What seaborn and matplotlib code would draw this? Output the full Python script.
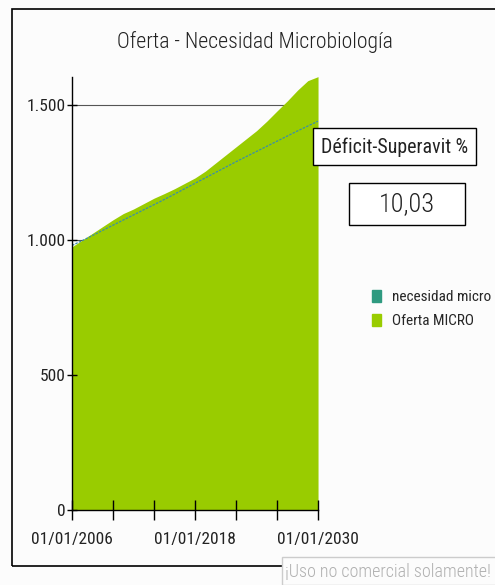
import numpy as np
import pandas as pd
import matplotlib.pyplot as plt
import seaborn as sns
from matplotlib.patches import Patch, Rectangle

years = list(range(2006, 2031))
oferta = [975, 1000, 1025, 1050, 1075, 1098, 1115, 1135, 1155, 1172, 1190, 1210, 1230,
          1255, 1285, 1315, 1345, 1375, 1405, 1440, 1478, 1515, 1555, 1590, 1605]
necesidad = [980, 998, 1017, 1036, 1055, 1074, 1093, 1112, 1131, 1150, 1170, 1190, 1210,
             1230, 1250, 1270, 1290, 1309, 1328, 1347, 1366, 1385, 1404, 1422, 1440]
tick_years = [2006, 2010, 2014, 2018, 2022, 2026, 2030]
tick_labels = ["01/01/2006", "", "", "01/01/2018", "", "", "01/01/2030"]
yticks = [0, 500, 1000, 1500]
ytick_labels = ["0", "500", "1.000", "1.500"]
deficit = "10,03"

df = pd.DataFrame({"year": years, "oferta": oferta, "necesidad": necesidad})

sns.set_style("white")
plt.rcParams["font.family"] = ["Roboto Condensed", "Liberation Sans Narrow", "DejaVu Sans"]
plt.rcParams["font.stretch"] = "condensed"

green = "#99cc00"
teal = "#2f9a80"
txt = "#222222"

fig = plt.figure(figsize=(4.95, 5.85), dpi=100, facecolor="#fcfcfc")
ax = fig.add_axes([0.1455, 0.128, 0.497, 0.741])
ax.set_facecolor("#fcfcfc")

# horizontal grid lines sit behind the area
for v in yticks[1:]:
    ax.axhline(v, color="#555555", lw=0.8, zorder=0.5)

ax.fill_between(df["year"], 0, df["oferta"], color=green, lw=0, zorder=1)
sns.lineplot(data=df, x="year", y="necesidad", ax=ax, color="#3a8fa8", lw=0.9,
             linestyle=(0, (2, 1)), zorder=2)

ax.set_xlim(2006, 2030)
ax.set_ylim(0, 1605)
ax.set_xticks(tick_years)
ax.set_xticklabels(tick_labels)
ax.set_yticks(yticks)
ax.set_yticklabels(ytick_labels)
ax.set_xlabel("")
ax.set_ylabel("")
ax.grid(False)
ax.set_axisbelow(False)
for s in ["top", "right"]:
    ax.spines[s].set_visible(False)
for s in ["left", "bottom"]:
    ax.spines[s].set_color("black")
    ax.spines[s].set_linewidth(1)
    ax.spines[s].set_zorder(4)
ax.tick_params(axis="both", direction="inout", width=1, color="black",
               labelsize=12.5, labelcolor=txt, bottom=True, left=True)
ax.tick_params(axis="x", length=14, pad=9)
ax.tick_params(axis="y", length=7.5, pad=1)

fig.text(0.515, 0.928, "Oferta - Necesidad Microbiología", ha="center", va="center",
         fontsize=15.7, color=txt, fontweight="light")

# outer frame
fig.patches.append(Rectangle((12 / 495, 1 - 566 / 585), 1.2, (566 - 9) / 585,
                             transform=fig.transFigure, fill=False, ec="black", lw=1.2))

# boxes on the right
fig.patches.append(Rectangle((313 / 495, 1 - 165 / 585), 163 / 495, 37 / 585,
                             transform=fig.transFigure, fc="white", ec="black", lw=1))
fig.text(395 / 495, 1 - 147 / 585, "Déficit-Superavit %", ha="center", va="center",
         fontsize=14.3, color=txt)
fig.patches.append(Rectangle((349 / 495, 1 - 225 / 585), 116 / 495, 42 / 585,
                             transform=fig.transFigure, fc="white", ec="black", lw=1))
fig.text(407 / 495, 1 - 204 / 585, deficit, ha="center", va="center",
         fontsize=19, color=txt, fontweight="light")

handles = [Patch(color=teal, label="necesidad micro"), Patch(color=green, label="Oferta MICRO")]
fig.legend(handles=handles, loc="center left", bbox_to_anchor=(358 / 495, 1 - 309 / 585),
           frameon=False, fontsize=11, handlelength=0.6, handleheight=0.9,
           handletextpad=0.7, labelspacing=0.6)

fig.patches.append(Rectangle((282 / 495, 0), 0.5, 28 / 585,
                             transform=fig.transFigure, fc="#fcfcfc", ec="#cccccc", lw=1))
fig.text(285 / 495, 1 - 572 / 585, "¡Uso no comercial solamente!", ha="left", va="center",
         fontsize=13, color="#b0b0b0", fontweight="light")

fig.savefig("out.png", dpi=100, facecolor=fig.get_facecolor())
